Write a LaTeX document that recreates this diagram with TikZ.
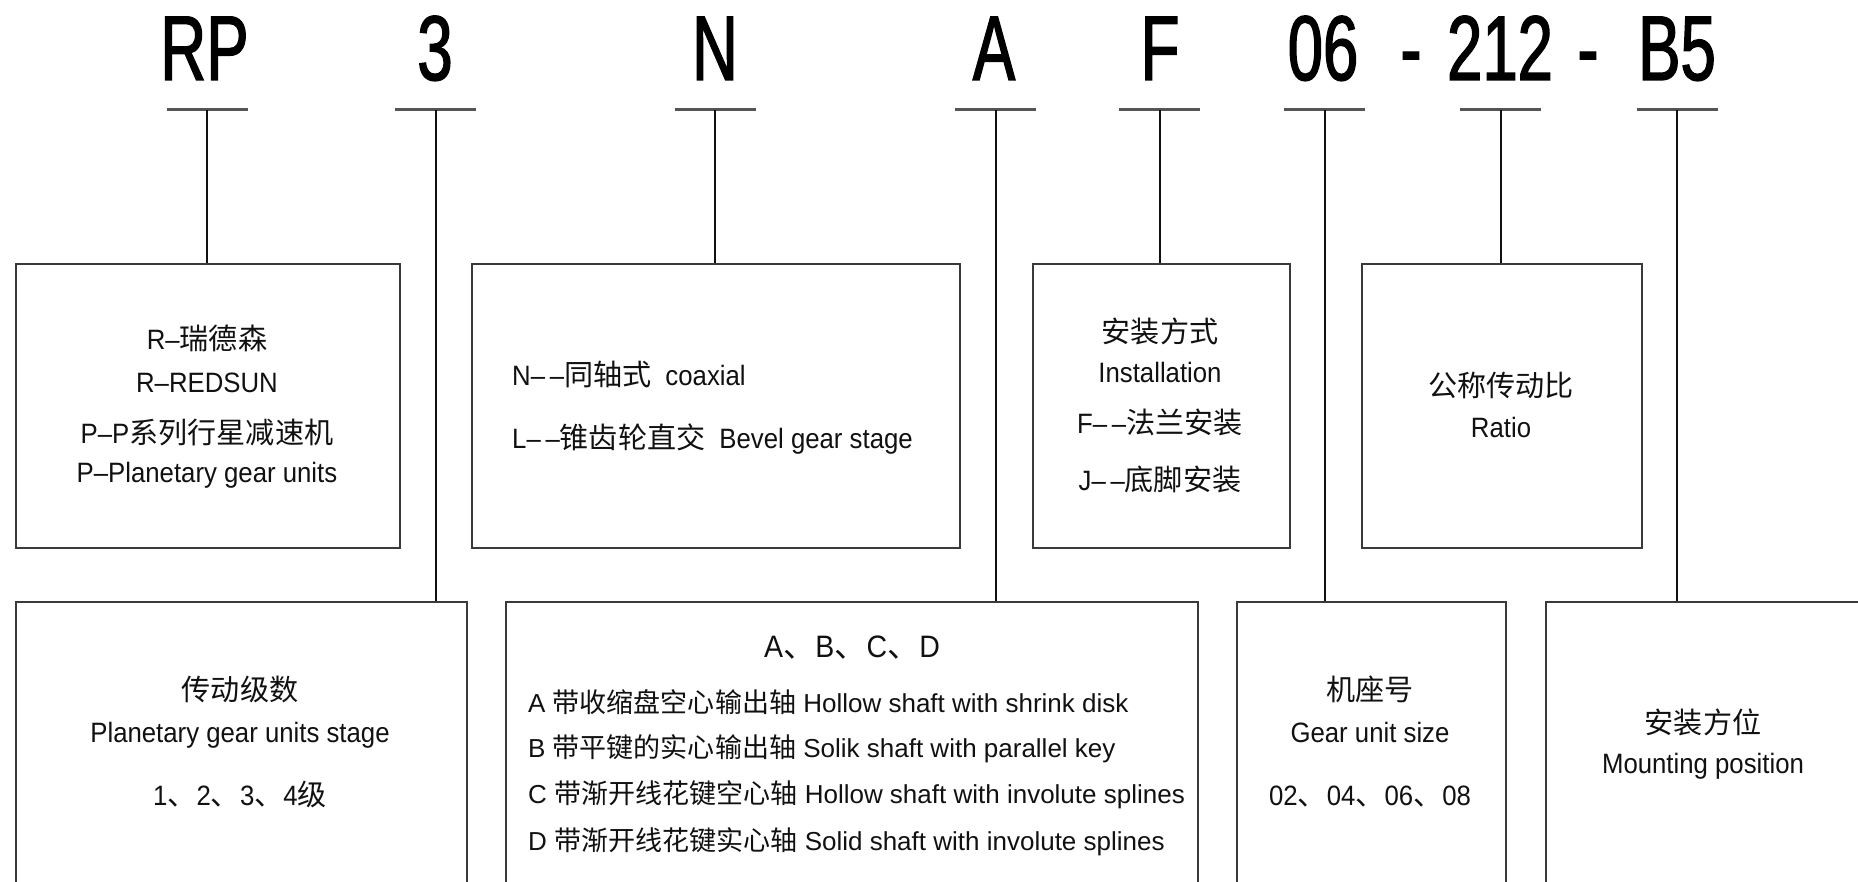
\documentclass[tikz,border=0pt]{standalone}
\usepackage{fontspec}
\setmainfont{Liberation Sans}[FakeStretch=0.92]
\newfontfamily\cjk{Noto Sans CJK SC}[Scale=1.04]
\newfontfamily\titlefont{Liberation Sans}[FakeStretch=0.69,FakeBold=1.5]
\newfontfamily\plainlat{Liberation Sans}
\newcommand{\zh}[1]{{\cjk #1}}
\definecolor{boxgray}{HTML}{3A3A3A}
\definecolor{ulgray}{HTML}{555555}
\definecolor{ink}{HTML}{111111}
\begin{document}
\begin{tikzpicture}[x=1pt,y=-1pt,
  box/.style={draw=boxgray, line width=2.4pt, inner sep=0pt, anchor=north west, fill=none},
  uline/.style={draw=ulgray, line width=3pt},
  conn/.style={draw=ink, line width=2pt},
  title/.style={font=\titlefont\fontsize{92}{92}\selectfont, anchor=base, inner sep=0pt, text=black},
  txt/.style={font=\fontsize{28}{30}\selectfont, anchor=base, inner sep=0pt, text=ink},
  txtl/.style={font=\fontsize{28}{30}\selectfont, anchor=base west, inner sep=0pt, text=ink},
  txts/.style={font=\plainlat\fontsize{26}{28}\selectfont, anchor=base west, inner sep=0pt, text=ink}
]
\fill[white] (0,0) rectangle (1858,882);
\clip (0,0) rectangle (1858,882);

% title code
\node[title] (tRP)  at (204.5,80) {RP};
\node[title] (t3)   at (435,80)  {3};
\node[title] (tN)   at (715,80)  {N};
\node[title] (tA)   at (994,80)  {A};
\node[title] (tF)   at (1160,80) {F};
\node[title] (t06)  at (1323,80) {06};
\node[title] (th1)  at (1411,80) {-};
\node[title] (t212) at (1500,80) {212};
\node[title] (th2)  at (1588,80) {-};
\node[title] (tB5)  at (1677,80) {B5};

% underline centres
\coordinate (uRP)  at (207,110);
\coordinate (u3)   at (435.5,110);
\coordinate (uN)   at (715,110);
\coordinate (uA)   at (995.5,110);
\coordinate (uF)   at (1159.5,110);
\coordinate (u06)  at (1324.5,110);
\coordinate (u212) at (1500.5,110);
\coordinate (uB5)  at (1677,110);
\foreach \u in {uRP,u3,uN,uA,uF,u06,u212,uB5}{
  \draw[uline] ([xshift=-40.5pt]\u) -- ([xshift=40.5pt]\u);
}

% top row boxes
\node[box, minimum width=384pt, minimum height=284pt] (bR)     at (15,263)   {};
\node[box, minimum width=488pt, minimum height=284pt] (bN)     at (471,263)  {};
\node[box, minimum width=257pt, minimum height=284pt] (bF)     at (1032,263) {};
\node[box, minimum width=280pt, minimum height=284pt] (bRatio) at (1361,263) {};
% bottom row boxes (run past the lower / right edge)
\node[box, minimum width=451pt, minimum height=320pt] (b3)     at (15,601)   {};
\node[box, minimum width=692pt, minimum height=320pt] (bA)     at (505,601)  {};
\node[box, minimum width=269pt, minimum height=320pt] (b06)    at (1236,601) {};
\node[box, minimum width=340pt, minimum height=320pt] (bB5)    at (1545,601) {};

% connectors
\draw[conn] (uRP)  -- (uRP  |- bR.north);
\draw[conn] (u3)   -- (u3   |- b3.north);
\draw[conn] (uN)   -- (uN   |- bN.north);
\draw[conn] (uA)   -- (uA   |- bA.north);
\draw[conn] (uF)   -- (uF   |- bF.north);
\draw[conn] (u06)  -- (u06  |- b06.north);
\draw[conn] (u212) -- (u212 |- bRatio.north);
\draw[conn] (uB5)  -- (uB5  |- bB5.north);

% box RP texts
\node[txt] (r1) at (207,350) {R–\zh{瑞德森}};
\node[txt] (r2) at (207,392) {R–REDSUN};
\node[txt] (r3) at (207,443) {P–P\zh{系列行星减速机}};
\node[txt] (r4) at (207,482) {P–Planetary gear units};

% box N texts
\node[txtl] (n1) at (512,385) {N–\,–\zh{同轴式}\hspace{14pt}coaxial};
\node[txtl] (n2) at (512,448) {L–\,–\zh{锥齿轮直交}\hspace{14pt}Bevel gear stage};

% box F texts
\node[txt] (f1) at (1160,343) {\zh{安装方式}};
\node[txt] (f2) at (1160,383) {Installation};
\node[txt] (f3) at (1160,433) {F–\,–\zh{法兰安装}};
\node[txt] (f4) at (1160,490) {J–\,–\zh{底脚安装}};

% box ratio texts
\node[txt] (q1) at (1501,396) {\zh{公称传动比}};
\node[txt] (q2) at (1501,437) {Ratio};

% box 3 texts
\node[txt] (s1) at (240,700) {\zh{传动级数}};
\node[txt] (s2) at (240,742) {Planetary gear units stage};
\node[txt] (s3) at (240,805) {1\zh{、}2\zh{、}3\zh{、}4\zh{级}};

% box A texts
\node[txt, font=\fontsize{31}{32}\selectfont] (a0) at (852,657) {A\zh{、}B\zh{、}C\zh{、}D};
\node[txts] (a1) at (528,712) {A \zh{带收缩盘空心输出轴} Hollow shaft with shrink disk};
\node[txts] (a2) at (528,757) {B \zh{带平键的实心输出轴} Solik shaft with parallel key};
\node[txts] (a3) at (528,803) {C \zh{带渐开线花键空心轴} Hollow shaft with involute splines};
\node[txts] (a4) at (528,850) {D \zh{带渐开线花键实心轴} Solid shaft with involute splines};

% box 06 texts
\node[txt] (g1) at (1370,700) {\zh{机座号}};
\node[txt] (g2) at (1370,742) {Gear unit size};
\node[txt] (g3) at (1370,805) {02\zh{、}04\zh{、}06\zh{、}08};

% box B5 texts
\node[txt] (m1) at (1703,733) {\zh{安装方位}};
\node[txt] (m2) at (1703,773) {Mounting position};
\end{tikzpicture}
\end{document}
